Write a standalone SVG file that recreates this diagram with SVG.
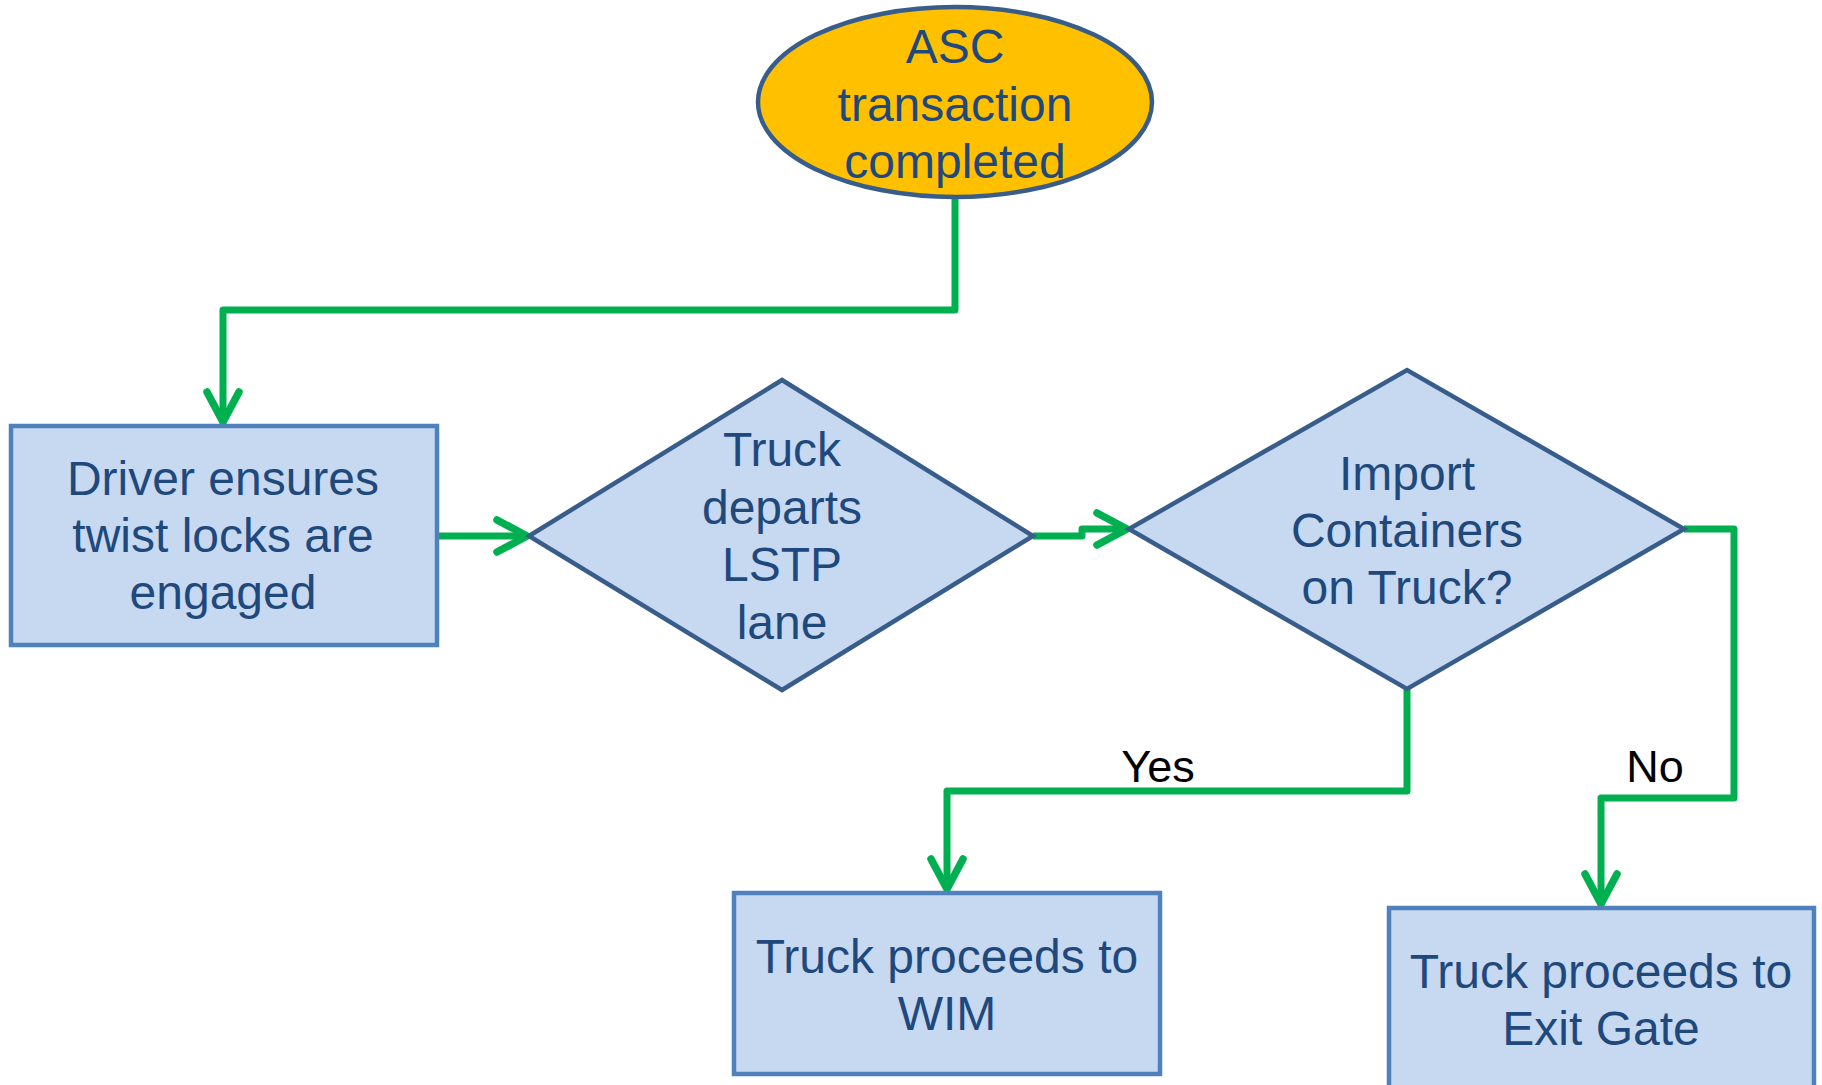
<svg xmlns="http://www.w3.org/2000/svg" width="1822" height="1085" viewBox="0 0 1822 1085">
<defs>
<style>
.t{font-family:"Liberation Sans",Arial,sans-serif;font-size:48px;fill:#1f497d;text-anchor:middle}
.lbl{font-family:"Liberation Sans",Arial,sans-serif;font-size:45px;fill:#000;text-anchor:middle}
.box{fill:#c6d9f1;stroke:#4f81bd;stroke-width:4.5}
.dia{fill:#c6d9f1;stroke:#385d8a;stroke-width:4.5}
.con{fill:none;stroke:#00b050;stroke-width:7;stroke-linejoin:round}
</style>
<marker id="arr" markerUnits="userSpaceOnUse" viewBox="-40 -25 50 50" refX="0" refY="0" markerWidth="50" markerHeight="50" orient="auto" overflow="visible">
<path d="M-30,-16 L0,0 L-30,16" fill="none" stroke="#00b050" stroke-width="7.5" stroke-linecap="round" stroke-linejoin="round"/>
</marker>
</defs>
<rect width="1822" height="1085" fill="#fff"/>
<g id="connectors">
<path class="con" d="M955,199 V310 H223 V422" marker-end="url(#arr)"/>
<path class="con" d="M437,536 H527" marker-end="url(#arr)"/>
<path class="con" d="M1033,536 H1082 V529 H1127" marker-end="url(#arr)"/>
<path class="con" d="M1407,689 V791 H947 V889" marker-end="url(#arr)"/>
<path class="con" d="M1684,529 H1734 V798 H1601 V904" marker-end="url(#arr)"/>
</g>
<g id="start">
<ellipse cx="955" cy="102" rx="197" ry="95" fill="#ffc000" stroke="#385d8a" stroke-width="4.5"/>
<text class="t" x="955" y="63">ASC</text>
<text class="t" x="955" y="121">transaction</text>
<text class="t" x="955" y="178">completed</text>
</g>
<g id="driver">
<rect class="box" x="11" y="426" width="426" height="219"/>
<text class="t" x="223" y="495">Driver ensures</text>
<text class="t" x="223" y="552">twist locks are</text>
<text class="t" x="223" y="609">engaged</text>
</g>
<g id="departs">
<polygon class="dia" points="529,536 782,380 1033,536 782,690"/>
<text class="t" x="782" y="466">Truck</text>
<text class="t" x="782" y="524">departs</text>
<text class="t" x="782" y="581">LSTP</text>
<text class="t" x="782" y="639">lane</text>
</g>
<g id="import">
<polygon class="dia" points="1129,529 1407,370 1684,529 1407,689"/>
<text class="t" x="1407" y="490">Import</text>
<text class="t" x="1407" y="547">Containers</text>
<text class="t" x="1407" y="604">on Truck?</text>
</g>
<g id="labels">
<text class="lbl" x="1158" y="782">Yes</text>
<text class="lbl" x="1655" y="782">No</text>
</g>
<g id="wim">
<rect class="box" x="734" y="893" width="426" height="181"/>
<text class="t" x="947" y="973">Truck proceeds to</text>
<text class="t" x="947" y="1030">WIM</text>
</g>
<g id="exit">
<rect class="box" x="1389" y="908" width="425" height="190"/>
<text class="t" x="1601" y="988">Truck proceeds to</text>
<text class="t" x="1601" y="1045">Exit Gate</text>
</g>
</svg>
